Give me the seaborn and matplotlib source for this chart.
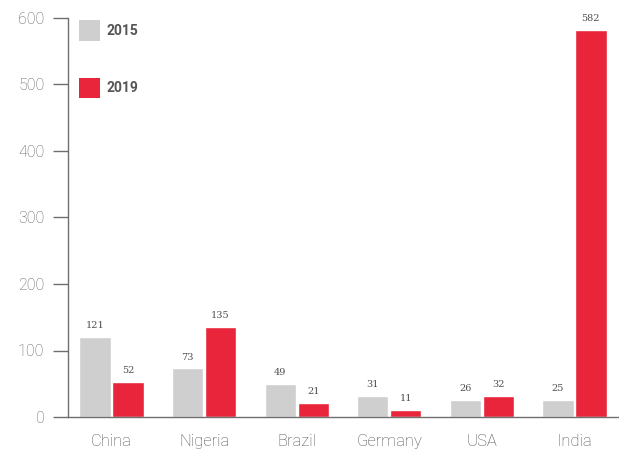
import matplotlib
matplotlib.use("Agg")
import matplotlib.pyplot as plt
from matplotlib.patches import Patch
import seaborn as sns
import pandas as pd

countries = ["China", "Nigeria", "Brazil", "Germany", "USA", "India"]
years = ["2015", "2019"]
values_2015 = [121, 73, 49, 31, 26, 25]
values_2019 = [52, 135, 21, 11, 32, 582]
y_ticks = [0, 100, 200, 300, 400, 500, 600]

df = pd.DataFrame({
    "country": countries * 2,
    "year": [years[0]] * len(countries) + [years[1]] * len(countries),
    "value": values_2015 + values_2019,
})

sns.set_theme(style="white")
plt.rcParams["font.family"] = ["Roboto", "DejaVu Sans"]

fig = plt.figure(figsize=(6.19, 4.5), dpi=100)
ax = fig.add_axes([68 / 619, 33 / 450, 550 / 619, 399 / 450])

palette = {"2015": "#cfcfcf", "2019": "#e8253a"}
sns.barplot(data=df, x="country", y="value", hue="year", order=countries,
            hue_order=years, palette=palette, saturation=1, width=0.71,
            gap=0.05, ax=ax, legend=False)

for cont in ax.containers:
    ax.bar_label(cont, fmt="%d", padding=5, fontsize=7, color="#4f4f4f",
                 family="DejaVu Serif")

ax.set_xlim(-0.47, 5.47)
ax.set_ylim(0, 600)
ax.set_yticks(y_ticks)
ax.set_xlabel("")
ax.set_ylabel("")

for side in ["top", "right"]:
    ax.spines[side].set_visible(False)
for side in ["left", "bottom"]:
    ax.spines[side].set_color("#6f6f6f")
    ax.spines[side].set_linewidth(1.0)

ax.tick_params(axis="y", length=11, width=1, color="#6f6f6f", pad=6,
               labelsize=11.5, labelcolor="#606060", left=True)
ax.tick_params(axis="x", length=0, pad=12, labelsize=12,
               labelcolor="#505050")
for lab in ax.get_yticklabels() + ax.get_xticklabels():
    lab.set_fontweight("light")

handles = [Patch(facecolor=palette[y], edgecolor="none", label=y) for y in years]
leg = ax.legend(handles=handles, loc="upper left",
                bbox_to_anchor=(11 / 550, 0.995), frameon=False, fontsize=10,
                handlelength=1.5, handleheight=1.93, handletextpad=0.45,
                labelspacing=2.65, borderaxespad=0, borderpad=0)
for txt in leg.get_texts():
    txt.set_fontweight("bold")
    txt.set_color("#555555")

fig.savefig("out.png", dpi=100)
